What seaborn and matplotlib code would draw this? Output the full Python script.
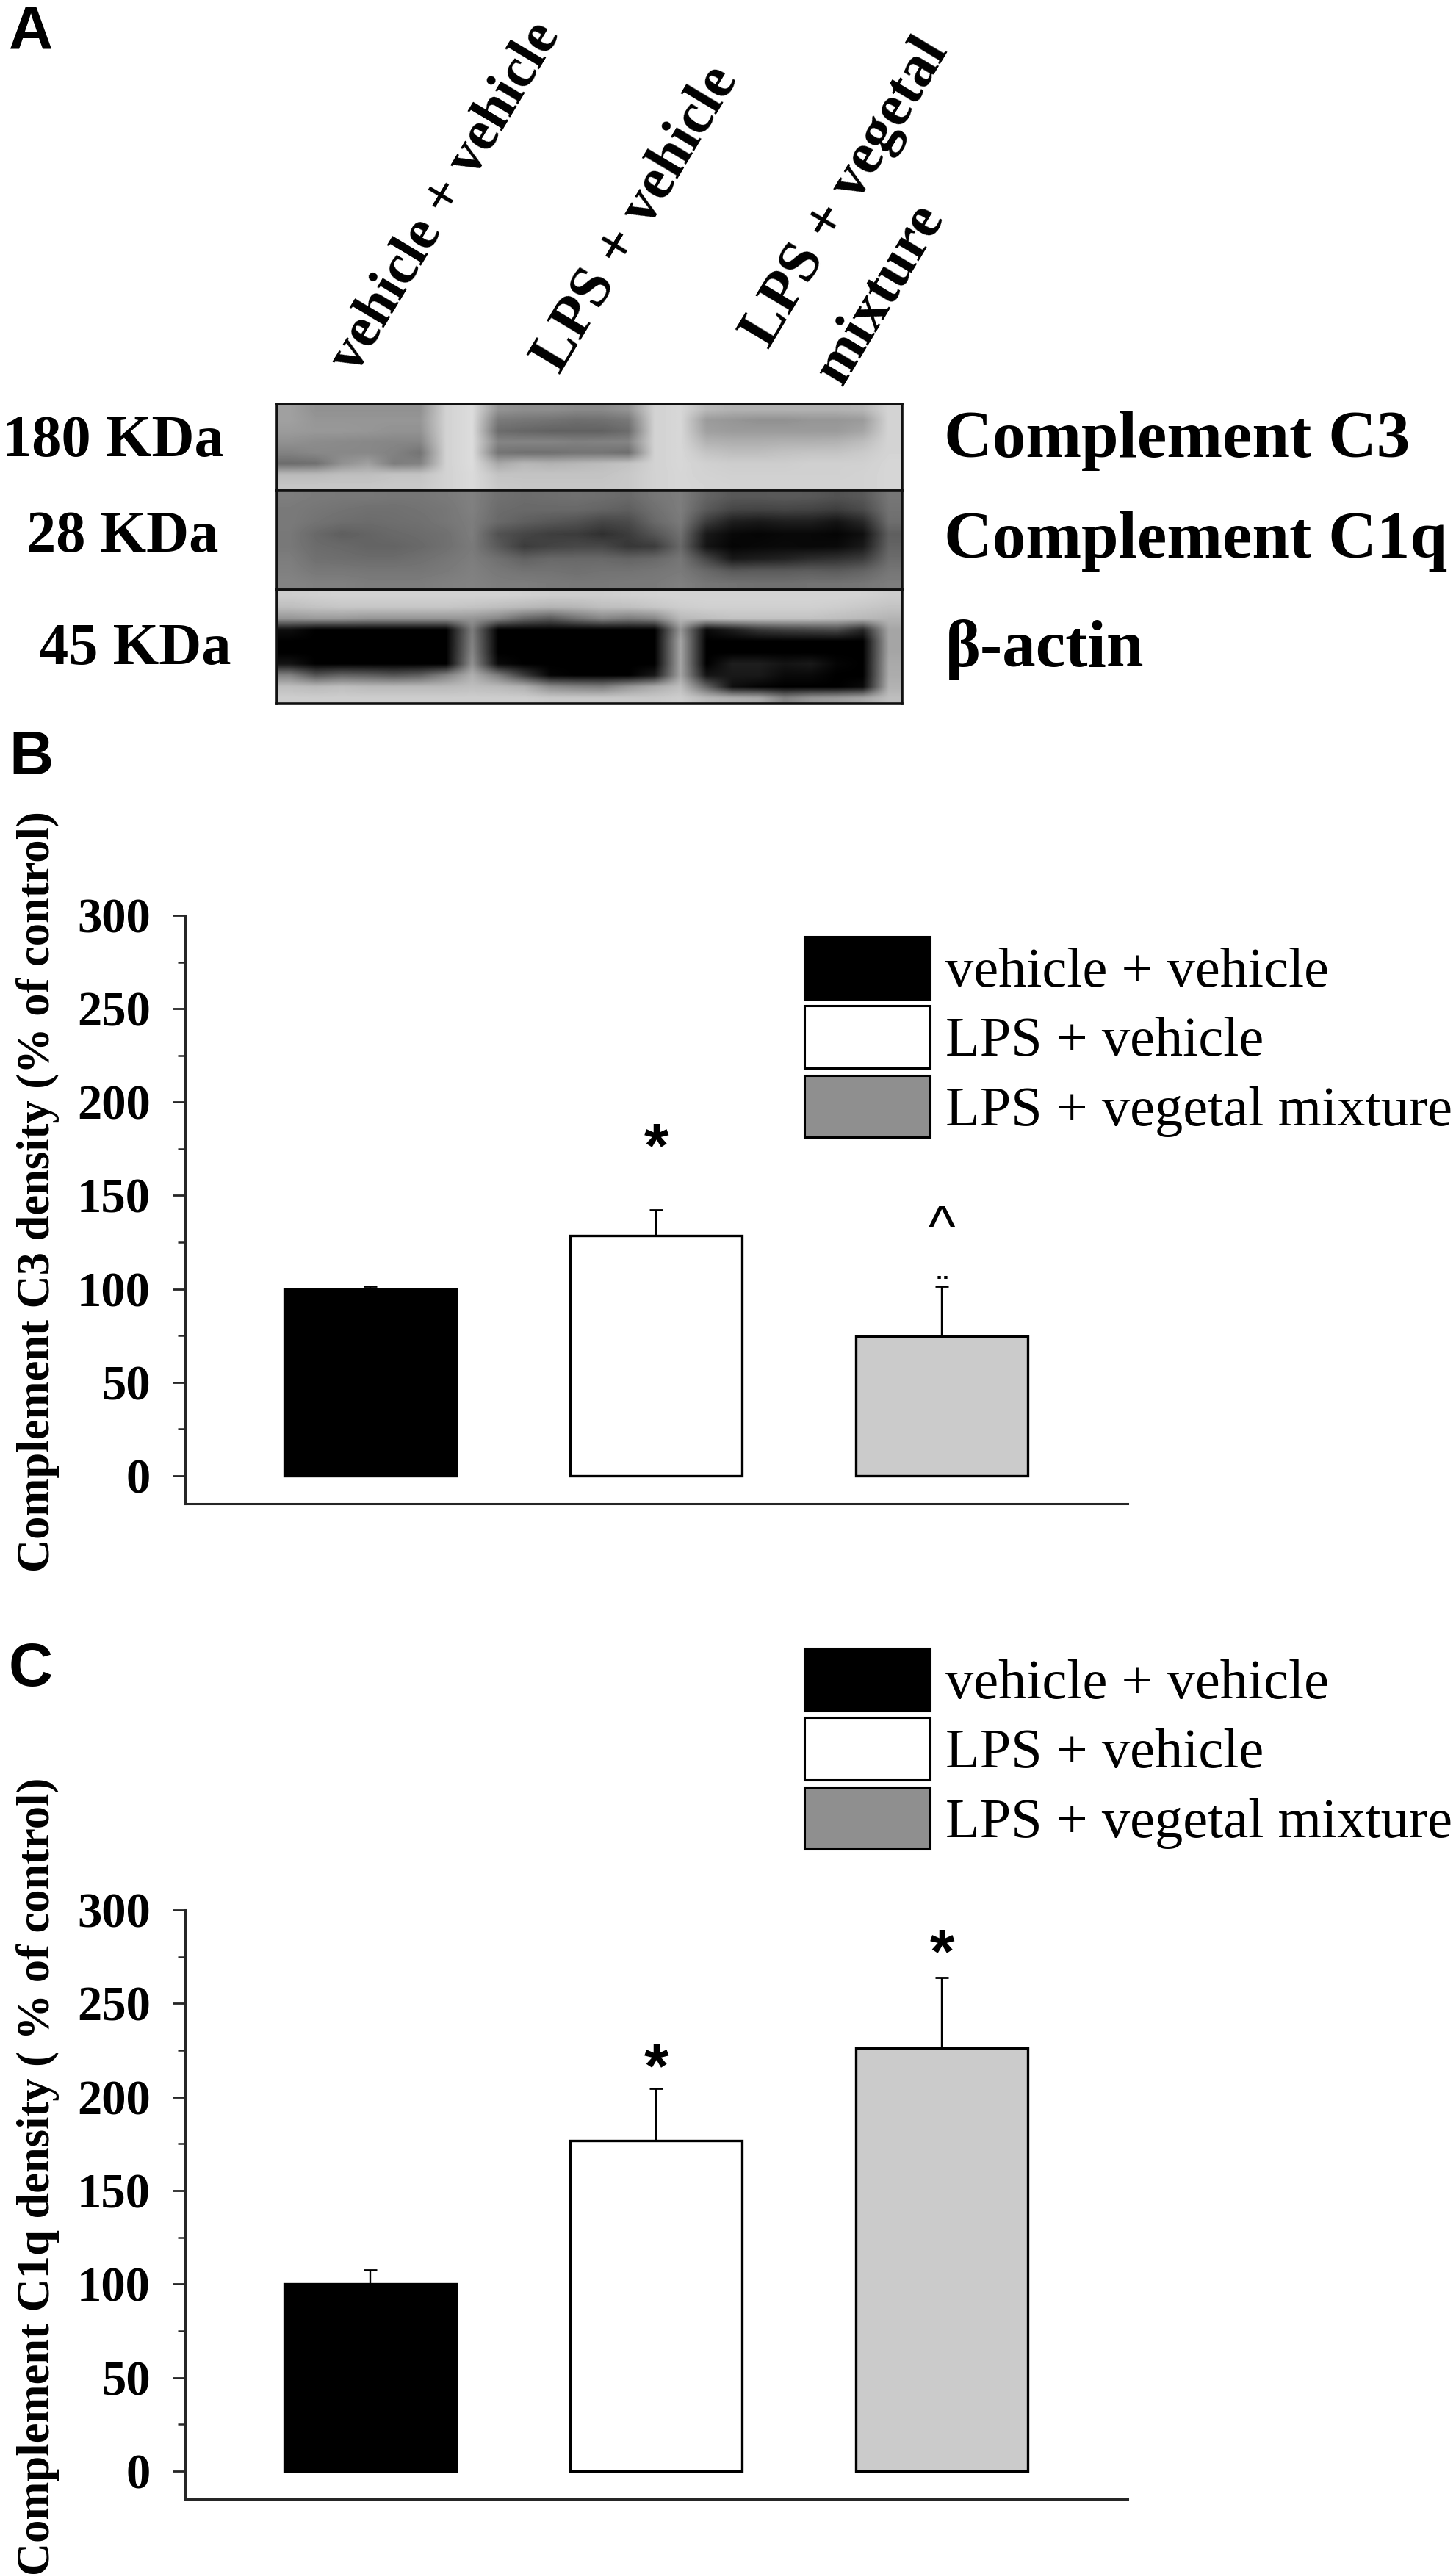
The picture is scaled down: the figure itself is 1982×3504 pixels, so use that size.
import numpy as np
import pandas as pd
import seaborn as sns
import matplotlib.pyplot as plt
from matplotlib.patches import Patch
from matplotlib.ticker import MultipleLocator

W, H = 1983, 3504

groups = ["vehicle + vehicle", "LPS + vehicle", "LPS + vegetal mixture"]
lane_labels = ["vehicle + vehicle", "LPS + vehicle", "LPS + vegetal", "mixture"]
bar_colors = ["#000000", "#ffffff", "#cbcbcb"]
legend_colors = ["#000000", "#ffffff", "#8f8f8f"]
yticks = [0, 50, 100, 150, 200, 250, 300]

c3_values = [100, 128.7, 74.5]
c3_errors = [1.3, 13.5, 27.1]
c1q_values = [100, 176.6, 226]
c1q_errors = [7.4, 28.1, 37.8]

# grey levels (rows top to bottom, columns left to right)
blot_c3 = [
    [160, 145, 145, 145, 145, 145, 210, 220, 148, 142, 142, 138, 138, 148, 210, 215, 185, 178, 178, 178, 178, 178, 182, 212],
    [160, 150, 150, 150, 150, 150, 210, 220, 122, 118, 115, 110, 112, 120, 210, 215, 155, 150, 145, 145, 150, 150, 155, 212],
    [155, 152, 152, 150, 146, 146, 210, 220, 108, 102, 98, 98, 98, 108, 210, 215, 160, 155, 155, 155, 155, 155, 165, 212],
    [145, 140, 138, 136, 134, 134, 210, 220, 132, 132, 132, 128, 130, 132, 210, 215, 178, 174, 174, 176, 176, 178, 188, 212],
    [130, 136, 136, 136, 130, 116, 210, 220, 116, 112, 112, 116, 116, 110, 210, 215, 196, 190, 190, 194, 196, 196, 202, 212],
    [108, 112, 145, 160, 125, 130, 210, 220, 168, 183, 178, 183, 188, 195, 210, 215, 208, 205, 205, 205, 208, 208, 208, 214],
    [185, 185, 190, 190, 195, 195, 210, 218, 195, 195, 195, 195, 195, 200, 210, 214, 210, 208, 208, 208, 208, 208, 210, 214],
    [198, 198, 198, 198, 200, 200, 210, 218, 200, 198, 198, 198, 198, 200, 210, 214, 212, 210, 210, 210, 210, 210, 210, 214],
]
blot_c1q = [
    [125, 122, 120, 120, 118, 118, 122, 128, 112, 108, 110, 112, 110, 105, 118, 125, 100, 88, 88, 90, 88, 82, 88, 118],
    [122, 118, 115, 112, 112, 115, 118, 128, 108, 105, 105, 105, 100, 95, 112, 125, 90, 70, 68, 70, 68, 62, 75, 115],
    [122, 115, 110, 108, 110, 112, 118, 125, 105, 95, 88, 82, 70, 75, 105, 122, 60, 30, 25, 30, 30, 20, 40, 110],
    [120, 105, 95, 100, 105, 108, 112, 125, 82, 70, 62, 60, 48, 60, 85, 112, 25, 8, 5, 8, 8, 5, 15, 95],
    [120, 108, 105, 100, 100, 105, 112, 122, 90, 60, 68, 72, 72, 55, 60, 105, 20, 5, 8, 10, 8, 10, 25, 100],
    [125, 112, 110, 108, 108, 112, 118, 125, 112, 98, 105, 105, 105, 100, 105, 118, 70, 25, 30, 35, 45, 50, 60, 108],
    [128, 120, 120, 118, 118, 118, 122, 128, 120, 115, 115, 112, 115, 115, 118, 122, 105, 90, 92, 92, 95, 92, 100, 118],
    [132, 128, 128, 125, 125, 125, 128, 130, 125, 125, 122, 120, 120, 122, 122, 128, 118, 115, 112, 112, 115, 115, 118, 125],
]
blot_actin = [
    [205, 208, 210, 210, 210, 210, 210, 210, 210, 208, 205, 205, 205, 208, 210, 212, 212, 212, 212, 212, 212, 212, 210, 205],
    [190, 195, 198, 198, 198, 198, 198, 195, 190, 185, 180, 182, 190, 192, 198, 205, 208, 208, 208, 208, 208, 205, 200, 195],
    [150, 155, 155, 150, 150, 150, 150, 150, 135, 105, 90, 115, 135, 125, 135, 185, 190, 195, 195, 195, 195, 190, 185, 180],
    [15, 0, 0, 0, 0, 0, 0, 125, 0, 0, 0, 0, 0, 0, 0, 150, 10, 30, 55, 65, 70, 75, 40, 165],
    [0, 0, 0, 0, 0, 0, 0, 130, 0, 0, 0, 0, 0, 0, 0, 165, 0, 0, 0, 0, 0, 0, 0, 165],
    [0, 0, 0, 0, 0, 0, 0, 135, 0, 0, 0, 0, 0, 0, 0, 165, 0, 0, 0, 0, 0, 0, 0, 165],
    [20, 0, 0, 0, 0, 0, 0, 145, 10, 0, 0, 0, 0, 0, 0, 165, 0, 30, 30, 20, 25, 5, 0, 170],
    [130, 85, 100, 95, 85, 95, 130, 175, 125, 60, 5, 0, 0, 0, 25, 165, 20, 25, 25, 10, 10, 0, 0, 172],
    [190, 185, 190, 185, 185, 185, 185, 190, 185, 175, 140, 130, 125, 150, 170, 190, 100, 15, 5, 0, 0, 0, 10, 178],
    [205, 205, 205, 205, 205, 205, 205, 205, 205, 205, 200, 200, 200, 200, 200, 205, 185, 175, 170, 130, 150, 155, 165, 190],
]

sns.set_theme(style="ticks")
plt.rcParams["font.family"] = ["Liberation Serif", "DejaVu Serif"]
plt.rcParams["axes.linewidth"] = 2.2


def px_axes(fig, left, top, right, bottom):
    return fig.add_axes([left / W, 1 - bottom / H, (right - left) / W, (bottom - top) / H])


def fig_text(x, y, s, **kw):
    fig.text(x / W, 1 - y / H, s, **kw)


def draw_panel(top, bottom, values, errors, ylabel, label_y, leg_top, marks):
    ax = px_axes(fig, 252, top, 1535, bottom)
    df = pd.DataFrame({"group": groups, "value": values})
    sns.barplot(data=df, x="group", y="value", hue="group", palette=bar_colors, dodge=False,
                width=0.6, edgecolor="black", linewidth=2.4, legend=False, ax=ax, zorder=3)
    ax.errorbar(range(3), values, yerr=[[0, 0, 0], errors], fmt="none", ecolor="black",
                elinewidth=1.7, capsize=6.5, capthick=2, zorder=2)
    ax.set_xlim(-0.648, 2.65)
    ax.set_ylim(-15, 300)
    ax.set_xticks([])
    ax.set_yticks(yticks)
    ax.yaxis.set_minor_locator(MultipleLocator(25))
    ax.tick_params(axis="y", which="major", length=12, width=2, pad=22)
    ax.tick_params(axis="y", which="minor", length=7, width=1.8)
    for t in ax.get_yticklabels():
        t.set_fontsize(48)
        t.set_fontweight("bold")
        t.set_color("black")
    ax.set_xlabel("")
    ax.set_ylabel("")
    sns.despine(ax=ax)
    fig_text(52, label_y, ylabel, rotation=90, fontsize=45, fontweight="bold",
             ha="center", va="center", color="black")
    handles = [Patch(facecolor=c, edgecolor="black", linewidth=2.2) for c in legend_colors]
    leg = fig.legend(handles, groups, loc="upper left", bbox_to_anchor=(1095 / W, 1 - leg_top / H),
                     frameon=False, fontsize=55, borderpad=0, borderaxespad=0,
                     handlelength=2.24, handleheight=1.33, labelspacing=0.125, handletextpad=0.27)
    for t in leg.get_texts():
        t.set_color("black")
    for x, y, s, size, weight in marks:
        ax.text(x, y, s, ha="center", va="center", fontsize=size, fontweight=weight,
                family="Liberation Sans", color="black")
    return ax


fig = plt.figure(figsize=(W / 100, H / 100), dpi=100, facecolor="white")

# panel A, blot strips
for data, top, bottom in [(blot_c3, 550, 668), (blot_c1q, 668, 803), (blot_actin, 803, 958)]:
    ax = px_axes(fig, 377, top, 1228, bottom)
    ax.imshow(np.array(data), cmap="gray", vmin=0, vmax=255, aspect="auto", interpolation="bilinear")
    ax.set_xticks([])
    ax.set_yticks([])
    for s in ax.spines.values():
        s.set_linewidth(2.6)
        s.set_color("#111111")

for s, x, y, size in zip(lane_labels, [484, 762, 1046, 1146], [510, 510, 476, 526], [56, 58, 58, 58]):
    fig_text(x, y, s, rotation=59, rotation_mode="anchor", fontsize=size, fontweight="bold",
             ha="left", va="baseline", color="black")

for x, y, s in [(305, 602, "180 KDa"), (297, 732, "28 KDa"), (315, 885, "45 KDa")]:
    fig_text(x, y, s, fontsize=58, fontweight="bold", ha="right", va="center", color="black")
for x, y, s in [(1285, 600, "Complement C3"), (1285, 737, "Complement C1q"), (1287, 885, "β-actin")]:
    fig_text(x, y, s, fontsize=65.5, fontweight="bold", ha="left", va="center", color="black")

for y, s in [(45, "A"), (1032, "B"), (2273, "C")]:
    fig_text(12, y, s, fontsize=60, fontweight="bold", family="Liberation Sans", ha="left", va="center", color="black")

draw_panel(1246, 2047, c3_values, c3_errors, "Complement C3 density (% of control)", 1622, 1275,
           [(1, 174, "*", 62, "bold"), (2, 131, "^", 56, "normal"), (2, 100, "¨", 30, "bold")])
draw_panel(2600, 3402, c1q_values, c1q_errors, "Complement C1q density ( % of control)", 2963, 2244,
           [(1, 214, "*", 62, "bold"), (2, 275, "*", 62, "bold")])

fig.savefig("out.png", dpi=100, facecolor="white")
